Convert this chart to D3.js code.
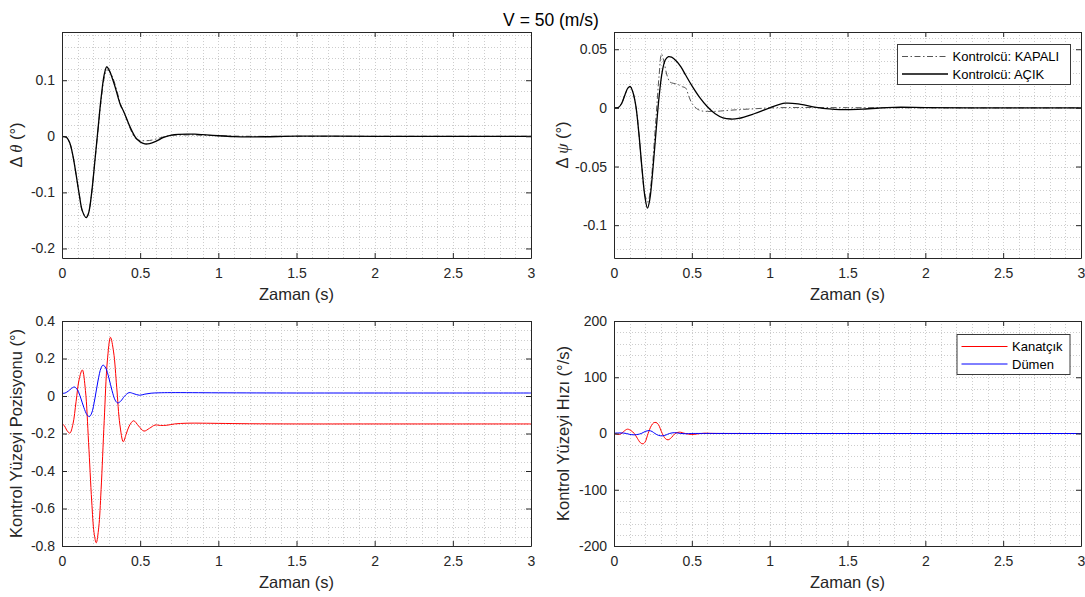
<!DOCTYPE html>
<html>
<head>
<meta charset="utf-8">
<script src="https://cdn.jsdelivr.net/npm/d3@7"></script>
<style>
  html, body { margin: 0; padding: 0; background: #ffffff; }
  svg { display: block; }
</style>
</head>
<body>
<svg id="fig" width="1085" height="597"></svg>
<script>
// ---------- data ----------
// Δθ response (°), controller off / on
const thetaOffT = [0,0.03,0.05,0.07,0.09,0.11,0.13,0.155,0.17,0.19,0.21,0.23,0.25,0.27,0.286,0.3,0.32,0.34,0.36,0.375,0.39,0.41,0.43,0.45,0.47,0.5,0.53,0.56,0.6,0.65,0.7,0.8,0.9,1.0,1.2,1.5,2,3];
const thetaOffV = [0,-0.002,-0.012,-0.035,-0.068,-0.103,-0.133,-0.145,-0.137,-0.100,-0.045,0.010,0.064,0.104,0.118,0.117,0.108,0.092,0.072,0.057,0.047,0.033,0.018,0.005,-0.004,-0.0075,-0.0078,-0.0075,-0.005,-0.001,0.0015,0.0025,0.002,0.001,0,0,0,0];
const thetaOnT = [0,0.03,0.05,0.07,0.09,0.11,0.13,0.155,0.17,0.19,0.21,0.23,0.25,0.27,0.286,0.3,0.32,0.34,0.36,0.375,0.39,0.41,0.43,0.45,0.47,0.5,0.53,0.56,0.6,0.65,0.7,0.75,0.8,0.85,0.9,1.0,1.1,1.2,1.3,1.5,1.7,2,3];
const thetaOnV = [0,-0.002,-0.012,-0.035,-0.068,-0.103,-0.133,-0.145,-0.137,-0.100,-0.045,0.012,0.068,0.110,0.124,0.119,0.105,0.088,0.068,0.055,0.047,0.034,0.020,0.008,-0.002,-0.010,-0.0135,-0.013,-0.009,-0.002,0.002,0.0035,0.004,0.0038,0.003,0.001,-0.0005,-0.001,-0.0008,0.0003,0.0002,0,0];

// Δψ response (°), controller off / on
const psiOffT = [0,0.03,0.05,0.07,0.09,0.105,0.12,0.14,0.16,0.18,0.2,0.218,0.235,0.25,0.27,0.29,0.305,0.32,0.34,0.36,0.38,0.41,0.44,0.46,0.48,0.5,0.53,0.56,0.6,0.65,0.7,0.8,0.9,1.0,1.2,1.5,2,3];
const psiOffV = [0,0.0005,0.004,0.011,0.017,0.0182,0.014,0.002,-0.022,-0.052,-0.075,-0.080,-0.068,-0.045,-0.008,0.028,0.046,0.040,0.028,0.022,0.021,0.020,0.018,0.017,0.010,0.004,-0.0005,-0.0025,-0.003,-0.003,-0.0025,-0.0015,-0.0008,0,0.0003,0.0002,0,0];
const psiOnT = [0,0.03,0.05,0.07,0.09,0.105,0.12,0.14,0.16,0.18,0.2,0.215,0.23,0.25,0.27,0.29,0.31,0.33,0.35,0.37,0.4,0.43,0.46,0.5,0.55,0.6,0.65,0.7,0.75,0.8,0.9,1.0,1.1,1.2,1.3,1.45,1.6,1.8,2.0,2.3,3];
const psiOnV = [0,0.0005,0.004,0.011,0.017,0.0182,0.014,0.002,-0.022,-0.052,-0.077,-0.0855,-0.078,-0.052,-0.020,0.010,0.031,0.041,0.0437,0.0432,0.040,0.035,0.028,0.019,0.009,0.001,-0.005,-0.0085,-0.0095,-0.009,-0.005,0,0.004,0.003,0.0005,-0.0015,-0.001,0.0005,0.0003,0,0];

// control surface position (°): aileron (Kanatçık), rudder (Dümen)
const aileronPosT = [0,0.015,0.03,0.05,0.07,0.09,0.11,0.13,0.15,0.17,0.19,0.205,0.219,0.235,0.25,0.27,0.29,0.31,0.33,0.35,0.37,0.392,0.41,0.43,0.458,0.49,0.524,0.56,0.595,0.63,0.67,0.72,0.8,0.9,1.0,1.2,1.5,2,3];
const aileronPosV = [-0.149,-0.158,-0.182,-0.198,-0.15,-0.03,0.09,0.139,0.029,-0.248,-0.56,-0.729,-0.783,-0.701,-0.50,-0.132,0.187,0.313,0.235,0.046,-0.151,-0.244,-0.205,-0.16,-0.132,-0.16,-0.187,-0.172,-0.155,-0.157,-0.156,-0.149,-0.145,-0.145,-0.146,-0.148,-0.149,-0.149,-0.149];
const rudderPosT = [0,0.02,0.04,0.06,0.08,0.1,0.12,0.14,0.16,0.175,0.19,0.21,0.23,0.25,0.263,0.28,0.3,0.32,0.34,0.356,0.375,0.4,0.429,0.46,0.496,0.53,0.57,0.62,0.7,1.0,1.5,2,3];
const rudderPosV = [0.014,0.016,0.026,0.040,0.048,0.031,-0.011,-0.062,-0.100,-0.110,-0.091,-0.016,0.080,0.150,0.165,0.149,0.096,0.029,-0.022,-0.037,-0.028,-0.001,0.018,0.012,0.004,0.010,0.015,0.017,0.018,0.017,0.016,0.016,0.016];

// control surface rate (°/s)
const aileronRateT = [0,0.015,0.03,0.045,0.06,0.086,0.11,0.13,0.15,0.17,0.186,0.2,0.219,0.24,0.255,0.27,0.285,0.31,0.33,0.347,0.37,0.392,0.42,0.458,0.5,0.54,0.58,0.62,0.7,1,3];
const aileronRateV = [0,-1.2,-1.8,-0.5,3,7.7,5,0,-8.5,-16.5,-18.4,-15,0,14,19,19.6,16,0,-9,-11.3,-7,0,2.4,0,-1.8,-0.5,0.5,0.2,0,0,0];
const rudderRateT = [0,0.03,0.06,0.08,0.1,0.13,0.155,0.175,0.2,0.225,0.245,0.263,0.285,0.31,0.335,0.356,0.39,0.429,0.46,0.5,0.56,1,3];
const rudderRateV = [0.5,1,0.8,0,-1.5,-2.4,-1.5,0,3.5,5.2,3.5,0,-3.2,-4.2,-2.5,0,1.5,0,-0.4,0,0.1,0,0];

// tick values and labels
const timeTicks = [0,0.5,1,1.5,2,2.5,3];
const timeTickLabels = ["0","0.5","1","1.5","2","2.5","3"];
const thetaTicks = [-0.2,-0.1,0,0.1];
const thetaTickLabels = ["-0.2","-0.1","0","0.1"];
const psiTicks = [-0.1,-0.05,0,0.05];
const psiTickLabels = ["-0.1","-0.05","0","0.05"];
const posTicks = [-0.8,-0.6,-0.4,-0.2,0,0.2,0.4];
const posTickLabels = ["-0.8","-0.6","-0.4","-0.2","0","0.2","0.4"];
const rateTicks = [-200,-100,0,100,200];
const rateTickLabels = ["-200","-100","0","100","200"];

const legendControl = ["Kontrolcü: KAPALI", "Kontrolcü: AÇIK"];
const legendSurface = ["Kanatçık", "Dümen"];

// ---------- drawing ----------
const FONT = '"Liberation Sans", Arial, Helvetica, sans-serif';
const INK = "#262626";
const svg = d3.select("#fig").style("font-family", FONT);

const styles = {
  off:  { stroke: "#555555", width: 1.0, dash: "6,2.5,1.5,2.5" },
  on:   { stroke: "#000000", width: 1.3, dash: null },
  red:  { stroke: "#ff0000", width: 1.0, dash: null },
  blue: { stroke: "#0000ff", width: 1.0, dash: null }
};

function zipSeries(t, v) { return t.map((d, i) => [d, v[i]]); }

const panels = [
  {
    box: { l: 62, r: 531, t: 32, b: 258 },
    yDomain: [-0.217, 0.186], yTicks: thetaTicks, yLabels: thetaTickLabels, yMinor: 0.02,
    ylabel: [{ t: "\u0394 " }, { t: "\u03b8", italic: true }, { t: " (\u00b0)" }], ylabelX: 22,
    series: [
      { data: zipSeries(thetaOffT, thetaOffV), style: styles.off },
      { data: zipSeries(thetaOnT, thetaOnV), style: styles.on }
    ]
  },
  {
    box: { l: 614, r: 1081, t: 32, b: 258 },
    yDomain: [-0.128, 0.0647], yTicks: psiTicks, yLabels: psiTickLabels, yMinor: 0.01,
    ylabel: [{ t: "\u0394 " }, { t: "\u03c8", italic: true }, { t: " (\u00b0)" }], ylabelX: 568,
    series: [
      { data: zipSeries(psiOffT, psiOffV), style: styles.off },
      { data: zipSeries(psiOnT, psiOnV), style: styles.on }
    ],
    legend: { x: 897, y: 44, w: 173, h: 40, labels: legendControl, styles: [styles.off, styles.on] }
  },
  {
    box: { l: 62, r: 531, t: 321, b: 546 },
    yDomain: [-0.8, 0.4], yTicks: posTicks, yLabels: posTickLabels, yMinor: 0.05,
    ylabel: [{ t: "Kontrol Yüzeyi Pozisyonu (\u00b0)" }], ylabelX: 22,
    series: [
      { data: zipSeries(aileronPosT, aileronPosV), style: styles.red },
      { data: zipSeries(rudderPosT, rudderPosV), style: styles.blue }
    ]
  },
  {
    box: { l: 614, r: 1081, t: 321, b: 546 },
    yDomain: [-200, 200], yTicks: rateTicks, yLabels: rateTickLabels, yMinor: 20,
    ylabel: [{ t: "Kontrol Yüzeyi Hızı (\u00b0/s)" }], ylabelX: 569,
    series: [
      { data: zipSeries(aileronRateT, aileronRateV), style: styles.red },
      { data: zipSeries(rudderRateT, rudderRateV), style: styles.blue }
    ],
    legend: { x: 956.5, y: 334, w: 113, h: 40, labels: legendSurface, styles: [styles.red, styles.blue] }
  }
];

// integer multiples of step strictly inside the domain
function innerMultiples(lo, hi, step) {
  const out = [];
  const a = Math.ceil(lo / step - 1e-9), b = Math.floor(hi / step + 1e-9);
  for (let k = a; k <= b; k++) {
    const v = k * step;
    if (Math.abs(v - lo) > step * 1e-3 && Math.abs(v - hi) > step * 1e-3) out.push(v);
  }
  return out;
}

function styleAxis(g) {
  g.selectAll(".domain").attr("stroke", INK).attr("stroke-width", 1);
  g.selectAll(".tick line").attr("stroke", INK).attr("stroke-width", 1);
  g.selectAll(".tick text").attr("fill", INK).style("font-size", "14px").style("font-family", FONT);
}

panels.forEach((p, i) => {
  const B = p.box;
  const x = d3.scaleLinear().domain([0, 3]).range([B.l, B.r]);
  const y = d3.scaleLinear().domain(p.yDomain).range([B.b, B.t]);
  const g = svg.append("g");

  g.append("rect").attr("x", B.l).attr("y", B.t)
    .attr("width", B.r - B.l).attr("height", B.b - B.t).attr("fill", "#ffffff");

  // dotted grid (major + minor)
  const grid = g.append("g").attr("stroke", "#cdcdcd").attr("stroke-width", 1)
    .attr("stroke-dasharray", "1,2");
  grid.selectAll("line.gx").data(innerMultiples(0, 3, 0.1)).join("line")
    .attr("class", "gx")
    .attr("x1", d => Math.round(x(d)) + 0.5).attr("x2", d => Math.round(x(d)) + 0.5)
    .attr("y1", B.t).attr("y2", B.b);
  grid.selectAll("line.gy").data(innerMultiples(p.yDomain[0], p.yDomain[1], p.yMinor)).join("line")
    .attr("class", "gy")
    .attr("y1", d => Math.round(y(d)) + 0.5).attr("y2", d => Math.round(y(d)) + 0.5)
    .attr("x1", B.l).attr("x2", B.r);

  // data lines
  const clipId = "plotclip" + i;
  svg.append("clipPath").attr("id", clipId).append("rect")
    .attr("x", B.l).attr("y", B.t).attr("width", B.r - B.l).attr("height", B.b - B.t);
  const line = d3.line().x(d => x(d[0])).y(d => y(d[1])).curve(d3.curveCatmullRom.alpha(0.5));
  const lines = g.append("g").attr("clip-path", `url(#${clipId})`);
  p.series.forEach(s => {
    lines.append("path").datum(s.data)
      .attr("d", line)
      .attr("fill", "none")
      .attr("stroke", s.style.stroke)
      .attr("stroke-width", s.style.width)
      .attr("stroke-dasharray", s.style.dash)
      .attr("stroke-linejoin", "round");
  });

  // boxed axes with inward ticks
  const xb = g.append("g").attr("transform", `translate(0,${B.b})`)
    .call(d3.axisBottom(x).tickValues(timeTicks).tickFormat((d, k) => timeTickLabels[k])
      .tickSizeInner(-5).tickSizeOuter(0).tickPadding(10));
  const xt = g.append("g").attr("transform", `translate(0,${B.t})`)
    .call(d3.axisTop(x).tickValues(timeTicks).tickFormat("").tickSizeInner(-5).tickSizeOuter(0));
  const yl = g.append("g").attr("transform", `translate(${B.l},0)`)
    .call(d3.axisLeft(y).tickValues(p.yTicks).tickFormat((d, k) => p.yLabels[k])
      .tickSizeInner(-5).tickSizeOuter(0).tickPadding(7));
  const yr = g.append("g").attr("transform", `translate(${B.r},0)`)
    .call(d3.axisRight(y).tickValues(p.yTicks).tickFormat("").tickSizeInner(-5).tickSizeOuter(0));
  [xb, xt, yl, yr].forEach(styleAxis);

  // axis labels
  g.append("text")
    .attr("x", (B.l + B.r) / 2).attr("y", B.b + 42)
    .attr("text-anchor", "middle").attr("fill", INK)
    .style("font-size", "16.5px").text("Zaman (s)");

  const yt = g.append("text")
    .attr("transform", `translate(${p.ylabelX},${(B.t + B.b) / 2}) rotate(-90)`)
    .attr("text-anchor", "middle").attr("fill", INK)
    .style("font-size", "16.5px");
  p.ylabel.forEach(part => {
    const ts = yt.append("tspan").text(part.t);
    if (part.italic) ts.style("font-style", "italic").style("font-family", '"Liberation Serif", "DejaVu Serif", serif');
  });

  // legend
  if (p.legend) {
    const L = p.legend;
    const lg = g.append("g");
    lg.append("rect").attr("x", L.x + 0.5).attr("y", L.y + 0.5).attr("width", L.w).attr("height", L.h)
      .attr("fill", "#ffffff").attr("stroke", "#3a3a3a").attr("stroke-width", 1);
    L.labels.forEach((lab, k) => {
      const cy = L.y + 12.5 + k * 17.5;
      lg.append("line").attr("x1", L.x + 5).attr("x2", L.x + 51).attr("y1", cy).attr("y2", cy)
        .attr("stroke", L.styles[k].stroke).attr("stroke-width", L.styles[k].width)
        .attr("stroke-dasharray", L.styles[k].dash);
      lg.append("text").attr("x", L.x + 55.5).attr("y", cy + 4.6)
        .attr("fill", "#000000").style("font-size", "13px").text(lab);
    });
  }
});

// figure title
svg.append("text")
  .attr("x", 551).attr("y", 26)
  .attr("text-anchor", "middle").attr("fill", "#000000")
  .style("font-size", "17.5px").text("V = 50 (m/s)");
</script>
</body>
</html>
